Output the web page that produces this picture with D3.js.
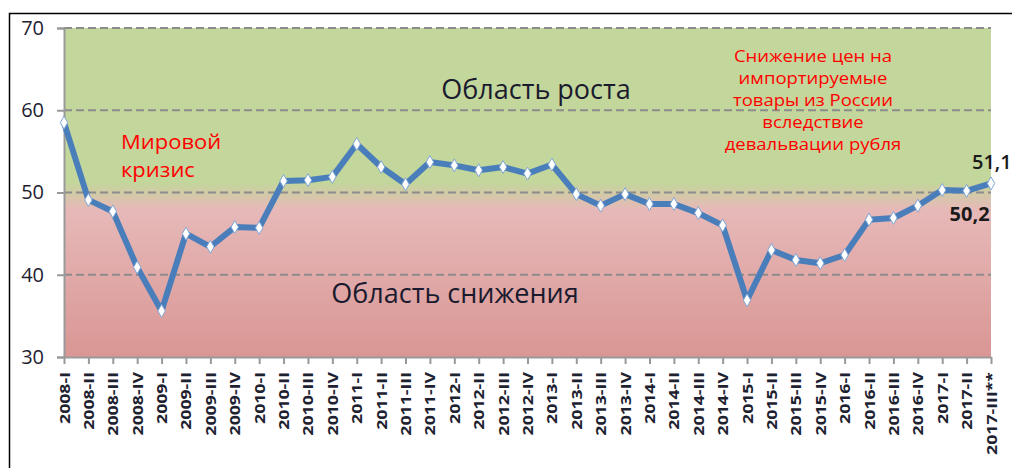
<!DOCTYPE html>
<html>
<head>
	<meta charset="utf-8">
	<script src="https://cdnjs.cloudflare.com/ajax/libs/d3/7.8.2/d3.min.js"></script>
	<style>
		body { margin: 0 ; background: white ; }
		svg { display: block ; font-family: "Open Sans", sans-serif ; }
	</style>
</head>
<body>
	<svg id="canvas"></svg>
</body>
<script>
	// quarters and index values
	let quarters = [
		"2008-I", "2008-II", "2008-III", "2008-IV",
		"2009-I", "2009-II", "2009-III", "2009-IV",
		"2010-I", "2010-II", "2010-III", "2010-IV",
		"2011-I", "2011-II", "2011-III", "2011-IV",
		"2012-I", "2012-II", "2012-III", "2012-IV",
		"2013-I", "2013-II", "2013-III", "2013-IV",
		"2014-I", "2014-II", "2014-III", "2014-IV",
		"2015-I", "2015-II", "2015-III", "2015-IV",
		"2016-I", "2016-II", "2016-III", "2016-IV",
		"2017-I", "2017-II", "2017-III**"
	] ;
	let values = [
		58.5, 49.1, 47.7, 40.9,
		35.6, 45.0, 43.4, 45.8,
		45.7, 51.4, 51.5, 51.9,
		55.9, 53.1, 51.0, 53.7,
		53.3, 52.7, 53.1, 52.3,
		53.4, 49.8, 48.4, 49.8,
		48.6, 48.6, 47.5, 46.0,
		36.9, 43.0, 41.8, 41.4,
		42.4, 46.7, 46.9, 48.4,
		50.3, 50.2, 51.1
	] ;
	let yTicks = [30, 40, 50, 60, 70] ;
	let gridValues = [40, 50, 60, 70] ;
	// point labels shown on the chart
	let pointLabels = [
		{ q: "2017-II", text: "50,2" },
		{ q: "2017-III**", text: "51,1" }
	] ;
	let crisisNote = [ "Мировой", "кризис" ] ;
	let devalNote = [ "Снижение цен на", "импортируемые", "товары из России", "вследствие", "девальвации рубля" ] ;

	let geom = {
		width: 1012,
		height: 468,
		left: 64,
		right: 991,
		top: 28,
		bottom: 357
	} ;

	let x = d3.scalePoint()
		.domain( quarters )
		.range( [ geom.left, geom.right ] ) ;
	let y = d3.scaleLinear()
		.domain( [30, 70] )
		.range( [ geom.bottom, geom.top ] ) ;

	let svg = d3.select( '#canvas' )
		.attr( 'width', geom.width )
		.attr( 'height', geom.height ) ;

	// frame round the chart (cropped on the right and bottom)
	svg.append( 'path' )
		.attr( 'd', 'M9.5,468 L9.5,13.5 L1012,13.5' )
		.attr( 'fill', 'none' )
		.attr( 'stroke', 'black' )
		.attr( 'stroke-width', 1.5 ) ;

	// background: green growth zone fading into red decline zone
	let grad = svg.append( 'defs' ).append( 'linearGradient' )
		.attr( 'id', 'bg' )
		.attr( 'x1', 0 ).attr( 'x2', 0 )
		.attr( 'y1', 0 ).attr( 'y2', 1 ) ;
	grad.append( 'stop' ).attr( 'offset', '0' ).attr( 'stop-color', '#c3d69b' ) ;
	grad.append( 'stop' ).attr( 'offset', '0.47' ).attr( 'stop-color', '#c3d69b' ) ;
	grad.append( 'stop' ).attr( 'offset', '0.55' ).attr( 'stop-color', '#e6b9b8' ) ;
	grad.append( 'stop' ).attr( 'offset', '1' ).attr( 'stop-color', '#d99694' ) ;

	svg.append( 'rect' )
		.attr( 'x', geom.left )
		.attr( 'y', geom.top )
		.attr( 'width', geom.right - geom.left )
		.attr( 'height', geom.bottom - geom.top )
		.attr( 'fill', 'url(#bg)' ) ;

	// dashed gridlines
	svg.append( 'g' )
		.selectAll( 'line' )
		.data( gridValues )
		.join( 'line' )
		.attr( 'x1', geom.left )
		.attr( 'x2', geom.right )
		.attr( 'y1', d => y(d) )
		.attr( 'y2', d => y(d) )
		.attr( 'stroke', '#8c8c8c' )
		.attr( 'stroke-width', 2 )
		.attr( 'stroke-dasharray', '8,4' ) ;

	// axes
	let yaxis = svg.append( 'g' )
		.attr( 'transform', 'translate(' + geom.left + ',0)' )
		.call( d3.axisLeft( y ).tickValues( yTicks ).tickSize( 7 ).tickPadding( 13 ) ) ;
	yaxis.selectAll( 'line, path' ).attr( 'stroke', '#999' ).attr( 'stroke-width', 2 ) ;
	yaxis.selectAll( 'text' )
		.attr( 'font-size', 20 )
		.attr( 'font-family', '"Open Sans", sans-serif' )
		.attr( 'fill', '#1e2230' ) ;

	let xaxis = svg.append( 'g' )
		.attr( 'transform', 'translate(0,' + geom.bottom + ')' )
		.call( d3.axisBottom( x ).tickSize( 7 ).tickSizeOuter( 0 ) ) ;
	xaxis.selectAll( 'line, path' ).attr( 'stroke', '#999' ).attr( 'stroke-width', 2 ) ;
	xaxis.selectAll( 'text' )
		.attr( 'font-size', 14.5 )
		.attr( 'font-weight', 'bold' )
		.attr( 'font-family', '"Open Sans", sans-serif' )
		.attr( 'fill', '#1e2230' )
		.attr( 'text-anchor', 'end' )
		.attr( 'dy', null )
		.attr( 'y', null )
		.attr( 'transform', 'translate(5,15) rotate(-90) scale(1.22,1)' ) ;

	// zone captions
	svg.append( 'text' )
		.attr( 'x', 536 ).attr( 'y', 99 )
		.attr( 'text-anchor', 'middle' )
		.attr( 'font-size', 27 )
		.attr( 'fill', '#1a1a2e' )
		.text( 'Область роста' ) ;
	svg.append( 'text' )
		.attr( 'x', 455 ).attr( 'y', 303 )
		.attr( 'text-anchor', 'middle' )
		.attr( 'font-size', 27 )
		.attr( 'fill', '#1a1a2e' )
		.text( 'Область снижения' ) ;

	// red notes, one text per line, slightly squashed like the original font
	svg.append( 'g' )
		.selectAll( 'text' )
		.data( crisisNote )
		.join( 'text' )
		.attr( 'transform', (d, i) => 'translate(121,' + (149 + i * 28) + ') scale(1,0.9)' )
		.attr( 'font-size', 22 )
		.attr( 'fill', '#ff0000' )
		.text( d => d ) ;

	svg.append( 'g' )
		.selectAll( 'text' )
		.data( devalNote )
		.join( 'text' )
		.attr( 'transform', (d, i) => 'translate(813,' + (62 + i * 22) + ') scale(1,0.84)' )
		.attr( 'text-anchor', 'middle' )
		.attr( 'font-size', 18.5 )
		.attr( 'fill', '#ff0000' )
		.text( d => d ) ;

	// the series line and markers
	let line = d3.line()
		.x( (d, i) => x( quarters[i] ) )
		.y( d => y(d) ) ;

	svg.append( 'path' )
		.attr( 'd', line( values ) )
		.attr( 'fill', 'none' )
		.attr( 'stroke', '#4a7ebb' )
		.attr( 'stroke-width', 6 )
		.attr( 'stroke-linejoin', 'round' ) ;

	svg.append( 'g' )
		.selectAll( 'path' )
		.data( values )
		.join( 'path' )
		.attr( 'd', d3.symbol( d3.symbolDiamond, 48 ) )
		.attr( 'transform', (d, i) => 'translate(' + x( quarters[i] ) + ',' + y(d) + ')' )
		.attr( 'fill', 'white' )
		.attr( 'stroke', '#7fa6d6' )
		.attr( 'stroke-width', 1 ) ;

	// value labels at the end
	let valueOf = q => values[ quarters.indexOf( q ) ] ;
	svg.append( 'text' )
		.attr( 'x', x( pointLabels[0].q ) + 23 )
		.attr( 'y', y( valueOf( pointLabels[0].q ) ) + 30 )
		.attr( 'text-anchor', 'end' )
		.attr( 'font-size', 20 )
		.attr( 'font-weight', 'bold' )
		.attr( 'fill', '#1a1a1a' )
		.text( pointLabels[0].text ) ;
	svg.append( 'text' )
		.attr( 'x', x( pointLabels[1].q ) - 19 )
		.attr( 'y', y( valueOf( pointLabels[1].q ) ) - 14 )
		.attr( 'font-size', 20 )
		.attr( 'font-weight', 600 )
		.attr( 'fill', '#1a1a1a' )
		.text( pointLabels[1].text ) ;
</script>
</html>
